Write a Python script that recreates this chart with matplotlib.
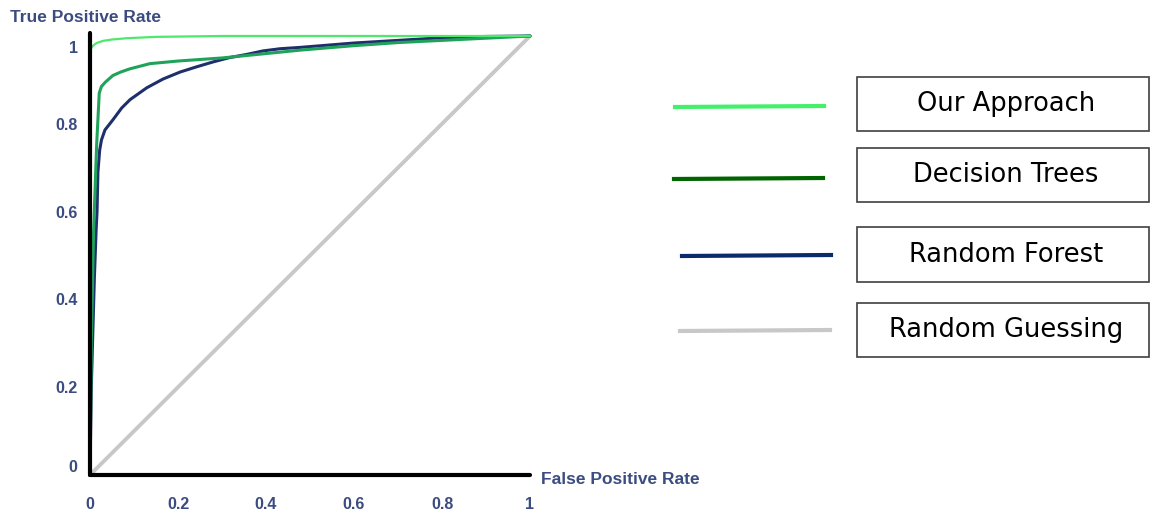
import matplotlib

matplotlib.use("Agg")

import matplotlib.pyplot as plt
import matplotlib.transforms as mtransforms
from matplotlib.patches import Rectangle

# ROC curves
ours_fpr = [0.0, 0.0, 0.007, 0.015, 0.03, 0.05, 0.084, 0.15, 0.3, 0.5, 1.0]
ours_tpr = [0.0, 0.968, 0.978, 0.984, 0.989, 0.992, 0.995, 0.998, 1.0, 1.0, 1.0]

tree_fpr = [0.0, 0.003, 0.008, 0.015, 0.021, 0.026, 0.035, 0.052, 0.07, 0.09,
            0.136, 0.2, 0.3, 0.4, 0.48, 0.6, 0.7, 0.8, 0.9, 1.0]
tree_tpr = [0.0, 0.3, 0.55, 0.75, 0.87, 0.885, 0.895, 0.91, 0.918, 0.925,
            0.937, 0.943, 0.95, 0.96, 0.968, 0.978, 0.985, 0.99, 0.995, 1.0]

forest_fpr = [0.0, 0.003, 0.006, 0.01, 0.014, 0.016, 0.018, 0.022, 0.026, 0.034,
              0.052, 0.072, 0.091, 0.129, 0.166, 0.205, 0.243, 0.28, 0.318,
              0.356, 0.393, 0.432, 0.477, 0.6, 0.7, 0.8, 0.9, 1.0]
forest_tpr = [0.0, 0.2, 0.31, 0.45, 0.56, 0.6, 0.69, 0.74, 0.763, 0.786,
              0.809, 0.836, 0.855, 0.882, 0.902, 0.918, 0.93, 0.941, 0.951,
              0.958, 0.966, 0.971, 0.974, 0.984, 0.99, 0.996, 0.999, 1.0]

guess_fpr = [0.0, 1.0]
guess_tpr = [0.0, 1.0]

ticks = [0, 0.2, 0.4, 0.6, 0.8, 1]
tick_labels = ["0", "0.2", "0.4", "0.6", "0.8", "1"]

series = [
    ("Our Approach", ours_fpr, ours_tpr, "#4ee86c", "#44f06a", 1.6),
    ("Decision Trees", tree_fpr, tree_tpr, "#1fa35a", "#006400", 2.2),
    ("Random Forest", forest_fpr, forest_tpr, "#1e2f6c", "#0c2a6b", 2.2),
    ("Random Guessing", guess_fpr, guess_tpr, "#c8c8c8", "#c8c8c8", 2.8),
]

W, H = 1151, 512
fig = plt.figure(figsize=(W / 100, H / 100), dpi=100)
label_color = "#3b4c80"

ax = fig.add_axes([90 / W, (H - 475) / H, 440 / W, 439 / H])
ax.set_xlim(0, 1)
ax.set_ylim(0, 1)

# diagonal first, then the three classifiers on top
for i in [3, 2, 1, 0]:
    name, xs, ys, color, _, lw = series[i]
    ax.plot(xs, ys, color=color, linewidth=lw, clip_on=False,
            zorder=2 + (3 - i) * 0.1, solid_capstyle="round")

for side in ("top", "right"):
    ax.spines[side].set_visible(False)
for side in ("left", "bottom"):
    ax.spines[side].set_linewidth(3.0)
    ax.spines[side].set_color("black")
    ax.spines[side].set_capstyle("round")
    ax.spines[side].set_zorder(5)
ax.spines["left"].set_bounds(0, 1.007)

ax.set_xticks(ticks)
ax.set_xticklabels(tick_labels)
ax.set_yticks(ticks)
ax.set_yticklabels(tick_labels)
ax.tick_params(length=0, labelsize=11.5, labelcolor=label_color)
ax.tick_params(axis="x", pad=16)
ax.tick_params(axis="y", pad=9)
for lbl in ax.get_xticklabels() + ax.get_yticklabels():
    lbl.set_fontfamily("Liberation Sans")
    lbl.set_fontweight("bold")

# the "0" and "1" labels on the y axis sit a little inside the range
ylabels = ax.yaxis.get_majorticklabels()
ylabels[0].set_transform(ylabels[0].get_transform()
                         + mtransforms.ScaledTranslation(0, 9 / 100, fig.dpi_scale_trans))
ylabels[-1].set_transform(ylabels[-1].get_transform()
                          + mtransforms.ScaledTranslation(0, -11 / 100, fig.dpi_scale_trans))

fig.text(10 / W, 1 - 18 / H, "True Positive Rate", ha="left", va="center",
         fontsize=12.5, fontweight="bold", family="Liberation Sans", color=label_color)
fig.text(541 / W, 1 - 479 / H, "False Positive Rate", ha="left", va="center",
         fontsize=12.5, fontweight="bold", family="Liberation Sans", color=label_color)

# legend drawn in pixel space on the right
lg = fig.add_axes([0, 0, 1, 1])
lg.set_xlim(0, W)
lg.set_ylim(H, 0)
lg.axis("off")

line_rows = [(675, 824, 107, 106), (674, 823, 179, 178), (682, 831, 256, 255), (680, 830, 331, 330)]
box_rows = [(77, 131), (148, 202), (227, 282), (303, 357)]
for (name, _, _, _, lcolor, _), (x0, x1, y0, y1), (b0, b1) in zip(series, line_rows, box_rows):
    lg.plot([x0, x1], [y0, y1], color=lcolor, linewidth=3.0)
    lg.add_patch(Rectangle((857, b0), 292, b1 - b0, fill=False,
                           edgecolor="#404040", linewidth=1.2))
    lg.text(1006, (b0 + b1) / 2, name, ha="center", va="center", fontsize=18.5,
            family="DejaVu Sans", color="black")

fig.savefig("out.png", dpi=100)
